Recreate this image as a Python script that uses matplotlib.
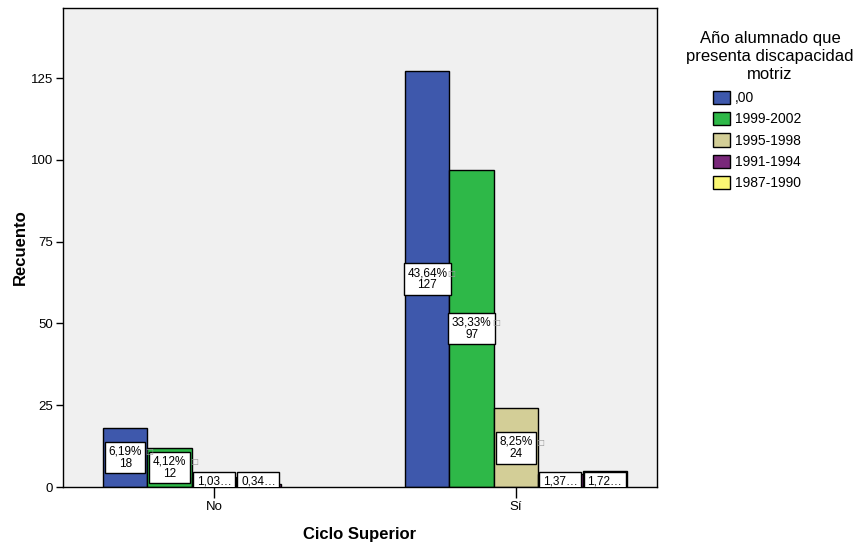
import matplotlib
matplotlib.use("Agg")
import matplotlib.pyplot as plt
import numpy as np
from matplotlib.patches import Patch

plt.rcParams['font.family'] = ['Liberation Sans', 'DejaVu Sans']

categories = ["No", "Sí"]
series = [",00", "1999-2002", "1995-1998", "1991-1994", "1987-1990"]
counts = {
    ",00":       [18, 127],
    "1999-2002": [12, 97],
    "1995-1998": [3, 24],
    "1991-1994": [1, 4],
    "1987-1990": [0, 5],
}
pct_labels = {
    ",00":       ["6,19%", "43,64%"],
    "1999-2002": ["4,12%", "33,33%"],
    "1995-1998": ["1,03…", "8,25%"],
    "1991-1994": ["0,34…", "1,37…"],
    "1987-1990": ["", "1,72…"],
}
colors = ["#3E58AC", "#2EB848", "#D3CE97", "#79287A", "#FBF873"]
yticks = [0, 25, 50, 75, 100, 125]
legend_title = "Año alumnado que\npresenta discapacidad\nmotriz"

fig = plt.figure(figsize=(8.63, 5.47), dpi=100)
ax = fig.add_axes([63/863, 1-487/547, 594/863, 479/547])
ax.set_facecolor("#F0F0F0")

width = 0.147
x = np.arange(len(categories))
for i, s in enumerate(series):
    pos = x + (i - 2) * width
    vals = counts[s]
    ax.bar(pos, vals, width=width, color=colors[i], edgecolor="black",
           linewidth=[1.0 if v > 0 else 0 for v in vals], zorder=2)
    for j, (p, v) in enumerate(zip(pos, vals)):
        lab = pct_labels[s][j]
        if not lab:
            continue
        if v >= 10:
            ax.text(p, v/2, f"{lab}\n{v}", ha="center", va="center", fontsize=8.5,
                    linespacing=1.05, zorder=4,
                    bbox=dict(boxstyle="square,pad=0.3", fc="white", ec="black", lw=1.0))
            ax.text(p + 0.068, v/2 + 1.7, "□", ha="left", va="center", fontsize=6,
                    family="DejaVu Sans", color="#999999", zorder=5)
        else:
            ax.text(p, 3.6, lab, ha="center", va="top", fontsize=8.5, zorder=4, clip_on=True,
                    bbox=dict(boxstyle="square,pad=0.3", fc="white", ec="black", lw=1.0))

ax.set_xlim(-0.5, 1.467)
ax.set_ylim(0, 146.4)
ax.set_yticks(yticks)
ax.set_yticklabels([str(t) for t in yticks], fontsize=9.5)
ax.set_xticks(x)
ax.set_xticklabels(categories, fontsize=9.5)
ax.tick_params(axis='y', length=5, width=1, direction='out', pad=2)
ax.tick_params(axis='x', length=8, width=1, direction='out', pad=2)
for sp in ax.spines.values():
    sp.set_linewidth(1.0)

ax.set_ylabel("Recuento", fontsize=12, fontweight="bold", labelpad=2)
ax.set_xlabel("Ciclo Superior", fontsize=12, fontweight="bold", labelpad=10.5)

fig.text(770/863, 1-56.5/547, legend_title, ha="center", va="center", fontsize=12,
         linespacing=1.22, multialignment="center")

handles = [Patch(facecolor=c, edgecolor="black", linewidth=1.0) for c in colors]
leg = fig.legend(handles, series, loc="upper left", bbox_to_anchor=(700/863, 1-78/547),
                 frameon=False, fontsize=10, handlelength=1.25, handleheight=1.1,
                 handletextpad=0.35, labelspacing=0.5)

fig.savefig("out.png", dpi=100)
